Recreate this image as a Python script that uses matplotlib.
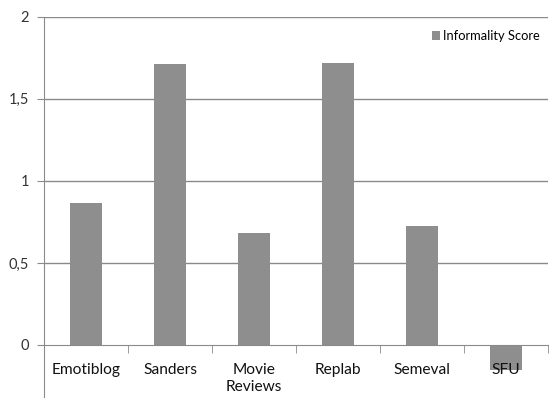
import matplotlib.pyplot as plt
from matplotlib.ticker import FixedLocator
import numpy as np

plt.rcParams['font.family'] = ['Lato', 'DejaVu Sans']

categories = ["Emotiblog", "Sanders", "Movie\nReviews", "Replab", "Semeval", "SFU"]
scores = [0.865, 1.71, 0.68, 1.72, 0.723, -0.152]
series_name = "Informality Score"
ytick_vals = [0, 0.5, 1, 1.5, 2]
ytick_labels = ["0", "0,5", "1", "1,5", "2"]

bar_color = "#8e8e8e"
line_color = "#8a8a8a"

fig = plt.figure(figsize=(5.49, 4.03), dpi=100)
ax = fig.add_axes([0.0801, 0.0149, 0.918, 0.9437])
ax.set_axisbelow(False)

x = np.arange(len(categories))
ax.bar(x, scores, 0.38, color=bar_color, label=series_name, zorder=2)

ax.set_xlim(-0.5, len(categories) - 0.5)
ax.set_ylim(-0.317, 2)

# gridlines
for v in ytick_vals[1:]:
    ax.axhline(v, color=line_color, lw=1, zorder=1)

ax.spines['top'].set_visible(False)
ax.spines['right'].set_visible(False)
ax.spines['left'].set_color(line_color)
ax.spines['bottom'].set_color(line_color)
ax.spines['bottom'].set_position(('data', 0))

ax.set_yticks(ytick_vals)
ax.set_yticklabels(ytick_labels)
ax.tick_params(axis='y', length=4.7, color=line_color, pad=6, labelsize=10.5, labelcolor='#333333')

ax.set_xticks(x)
ax.set_xticklabels(categories, linespacing=1.25)
ax.xaxis.set_minor_locator(FixedLocator(np.arange(len(categories) + 1) - 0.5))
ax.tick_params(axis='x', which='major', length=0, pad=13, labelsize=11.2, labelcolor='#111111')
ax.tick_params(axis='x', which='minor', length=6, color=line_color)

leg = ax.legend(loc='upper right', bbox_to_anchor=(1.0, 0.985), frameon=False,
                fontsize=9.3, handlelength=0.6, handleheight=0.6, handletextpad=0.3,
                borderaxespad=0.2)

fig.savefig("out.png", dpi=100)
